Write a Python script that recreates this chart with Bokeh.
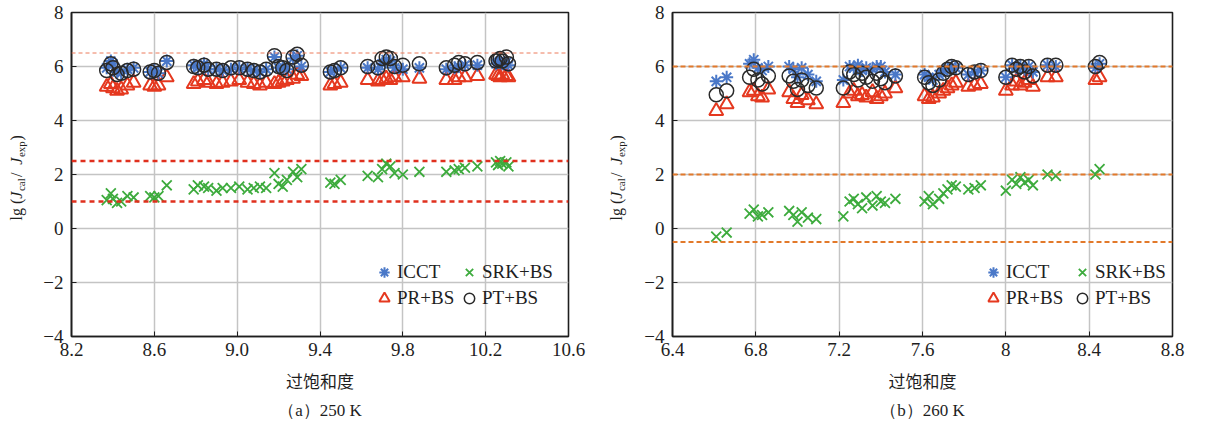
import numpy as np
from bokeh.plotting import figure
from bokeh.layouts import row
from bokeh.models import (Span, Legend, LegendItem, Title, FixedTicker,
                          CustomJSTickFormatter, Range1d)
from bokeh.core.properties import value
from bokeh.embed import file_html
from bokeh.resources import INLINE

# ---------------- data: (a) 250 K ----------------
ss_250 = [8.37, 8.39, 8.40, 8.42, 8.44, 8.47, 8.50,
          8.58, 8.60, 8.62, 8.66,
          8.79, 8.81, 8.84, 8.86, 8.90, 8.93, 8.97, 9.01, 9.05, 9.08, 9.11, 9.14,
          9.18, 9.20, 9.22, 9.24, 9.27, 9.29, 9.31,
          9.45, 9.47, 9.50,
          9.63, 9.68, 9.70, 9.72, 9.74, 9.76, 9.80, 9.88,
          10.01, 10.05, 10.07, 10.10, 10.16, 10.25, 10.26, 10.27, 10.28, 10.30, 10.31]
icct_250 = [5.95, 6.2, 6.1, 5.8, 5.75, 5.9, 5.95,
            5.8, 5.85, 5.75, 6.2,
            6.05, 5.95, 6.1, 5.9, 5.9, 5.85, 5.9, 5.95, 5.9, 5.85, 5.8, 5.9,
            6.35, 5.95, 6.0, 5.9, 6.3, 6.4, 6.0,
            5.8, 5.85, 5.95,
            5.95, 5.9, 6.1, 6.25, 6.2, 5.95, 5.9, 5.95,
            5.9, 5.95, 6.0, 6.05, 6.05, 6.1, 6.15, 6.2, 6.1, 6.15, 6.05]
pt_250 = [5.85, 6.1, 5.95, 5.7, 5.75, 5.85, 5.9,
          5.8, 5.85, 5.75, 6.15,
          6.0, 5.95, 6.05, 5.9, 5.9, 5.85, 5.95, 5.95, 5.9, 5.85, 5.8, 5.9,
          6.4, 6.0, 5.95, 5.85, 6.35, 6.45, 6.05,
          5.8, 5.85, 5.95,
          6.0, 5.95, 6.3, 6.35, 6.3, 6.0, 6.05, 6.1,
          5.95, 6.05, 6.15, 6.1, 6.15, 6.2, 6.25, 6.3, 6.2, 6.35, 6.1]
pr_250 = [5.25, 5.35, 5.2, 5.1, 5.15, 5.3, 5.4,
          5.3, 5.25, 5.3, 5.6,
          5.35, 5.45, 5.5, 5.4, 5.35, 5.4, 5.45, 5.5, 5.4, 5.35, 5.3, 5.4,
          5.35, 5.4, 5.45, 5.5, 5.55, 5.7, 5.65,
          5.3, 5.35, 5.4,
          5.5, 5.45, 5.5, 5.55, 5.5, 5.6, 5.6, 5.55,
          5.5, 5.5, 5.6, 5.6, 5.65, 5.7, 5.65, 5.6, 5.7, 5.65, 5.6]
srk_250 = [1.05, 1.3, 1.1, 0.95, 1.0, 1.2, 1.15,
           1.2, 1.15, 1.2, 1.6,
           1.45, 1.6, 1.55, 1.5, 1.4, 1.5, 1.5, 1.55, 1.45, 1.5, 1.55, 1.5,
           2.05, 1.65, 1.55, 1.8, 2.1, 1.9, 2.2,
           1.7, 1.65, 1.8,
           1.95, 1.9, 2.2, 2.4, 2.3, 2.05, 2.0, 2.1,
           2.1, 2.15, 2.2, 2.25, 2.3, 2.45, 2.35, 2.5, 2.4, 2.45, 2.3]
ref_lines_250 = [6.5, 2.5, 1.0]

# ---------------- data: (b) 260 K ----------------
ss_260 = [6.61, 6.66,
          6.77, 6.79, 6.81, 6.83, 6.86,
          6.96, 6.98, 7.00, 7.02, 7.05, 7.09,
          7.22,
          7.25, 7.27, 7.29, 7.31, 7.33, 7.36, 7.38, 7.40, 7.42, 7.47,
          7.61, 7.63, 7.65, 7.68, 7.70, 7.72, 7.74, 7.76, 7.82, 7.85, 7.88,
          8.00, 8.03, 8.05, 8.07, 8.09, 8.11, 8.13,
          8.20, 8.24,
          8.43, 8.45]
icct_260 = [5.45, 5.6,
            6.1, 6.25, 5.95, 5.85, 6.0,
            6.0, 5.9, 5.6, 5.95, 5.7, 5.45,
            5.5,
            6.0, 5.95, 6.05, 5.85, 5.95, 5.9, 6.0, 6.0, 5.8, 5.7,
            5.7, 5.6, 5.5, 5.7, 5.85, 5.9, 6.0, 5.95, 5.7, 5.8, 5.85,
            5.6, 6.05, 5.95, 6.0, 5.9, 6.0, 5.8,
            6.05, 6.0,
            5.95, 6.1]
pt_260 = [4.95, 5.1,
          5.6, 5.9, 5.5, 5.35, 5.65,
          5.65, 5.45, 5.15, 5.5, 5.3, 5.2,
          5.2,
          5.8, 5.7, 5.5, 5.75, 5.6, 5.45, 5.75, 5.55, 5.4, 5.65,
          5.6, 5.4, 5.3, 5.5, 5.75, 5.9, 6.0, 5.95, 5.7, 5.8, 5.85,
          5.6, 6.05, 5.9, 6.0, 5.8, 6.0, 5.65,
          6.05, 6.05,
          6.0, 6.15]
pr_260 = [4.35, 4.6,
          5.05, 5.1, 4.9, 4.85, 5.15,
          5.05, 4.8, 4.65, 4.95, 4.75, 4.6,
          4.65,
          5.0, 5.1, 4.9, 4.95, 4.85, 5.05, 4.8, 4.9, 5.0, 5.2,
          4.9, 4.8, 4.85, 5.0, 5.1, 5.2, 5.3, 5.4, 5.25, 5.3, 5.35,
          5.1, 5.3, 5.45, 5.3, 5.4, 5.5, 5.25,
          5.6, 5.6,
          5.5, 5.6]
srk_260 = [-0.3, -0.15,
           0.55, 0.7, 0.45, 0.5, 0.6,
           0.65, 0.5, 0.25, 0.6, 0.4, 0.35,
           0.45,
           1.0, 1.1, 0.9, 0.75, 1.15, 0.85, 1.2, 1.0, 0.95, 1.1,
           1.0, 1.2, 0.9, 1.1, 1.3, 1.45, 1.6, 1.55, 1.45, 1.5, 1.6,
           1.4, 1.8, 1.65, 1.9, 1.7, 1.8, 1.6,
           2.0, 1.95,
           2.0, 2.2]
ref_lines_260 = [6.0, 2.0, -0.5]

x_ticks_250 = [8.2, 8.6, 9.0, 9.4, 9.8, 10.2, 10.6]
x_ticks_260 = [6.4, 6.8, 7.2, 7.6, 8.0, 8.4, 8.8]
y_ticks = [-4, -2, 0, 2, 4, 6, 8]
series_names = ["ICCT", "SRK+BS", "PR+BS", "PT+BS"]
x_title = "过饱和度"
captions = ["（a）250 K", "（b）260 K"]
# y-axis title pieces: lg (J_cal / J_exp)
ytitle_pieces = ["lg (", "J", "cal", " / ", "J", "exp", ")"]

SERIF = "Liberation Serif"
CJK = "Noto Sans CJK SC"
C_ICCT = "#4a78c8"
C_SRK = "#3dab3d"
C_PR = "#e5381f"
C_PT = "#2a2a2a"
H = 424
TOP = 12
BOTTOM = 88
FRAME_H = H - TOP - BOTTOM  # 324 px for 12 units


def make_panel(ss, icct, pt, pr, srk, xticks, xfmt, spans, span_styles,
               caption, width, border_left, frame_w, legend_loc, legend_lw):
    x0, x1 = xticks[0], xticks[-1]
    p = figure(width=width, height=H, output_backend="svg", toolbar_location=None,
               x_range=Range1d(x0, x1), y_range=Range1d(-4, 8),
               min_border_left=border_left, min_border_right=width - border_left - frame_w,
               min_border_top=TOP, min_border_bottom=BOTTOM)
    p.background_fill_color = "white"
    p.border_fill_color = "white"
    p.outline_line_color = "#1e1e1e"
    p.outline_line_width = 1.6

    for ax in (p.xaxis[0], p.yaxis[0]):
        ax.axis_line_color = "#1e1e1e"
        ax.axis_line_width = 1.6
        ax.major_tick_in = 5
        ax.major_tick_out = 0
        ax.minor_tick_line_color = None
        ax.major_tick_line_color = "#1e1e1e"
        ax.major_label_text_font = SERIF
        ax.major_label_text_font_size = "19px"
        ax.major_label_text_color = "#1e1e1e"
    p.xaxis.ticker = FixedTicker(ticks=xticks)
    p.yaxis.ticker = FixedTicker(ticks=y_ticks)
    p.xaxis.formatter = CustomJSTickFormatter(code=xfmt)
    p.yaxis.formatter = CustomJSTickFormatter(
        code="return tick < 0 ? '\u2212' + Math.abs(tick) : tick.toString();")
    p.xaxis.major_label_standoff = 6
    p.yaxis.major_label_standoff = 8
    p.xaxis.axis_label = x_title
    p.xaxis.axis_label_text_font = CJK
    p.xaxis.axis_label_text_font_style = "normal"
    p.xaxis.axis_label_text_font_size = "17px"
    p.xaxis.axis_label_text_color = "#1e1e1e"
    p.xaxis.axis_label_standoff = 9
    p.grid.grid_line_color = "#c4c4c4"
    p.grid.grid_line_width = 1.5

    for yv, (col, lw, dash) in zip(spans, span_styles):
        p.add_layout(Span(location=yv, dimension="width", line_color=col,
                          line_width=lw, line_dash=dash))

    r_srk = p.scatter(ss, srk, marker="x", size=14, line_color=C_SRK, line_width=1.8)
    r_pr = p.scatter(ss, pr, marker="triangle", size=14, fill_color=None,
                     line_color=C_PR, line_width=2)
    r_icct = p.scatter(ss, icct, marker="asterisk", size=13, line_color=C_ICCT, line_width=2)
    r_pt = p.scatter(ss, pt, marker="circle", size=14, fill_color=None,
                     line_color=C_PT, line_width=1.5)

    leg = Legend(items=[LegendItem(label=series_names[0], renderers=[r_icct]),
                        LegendItem(label=series_names[1], renderers=[r_srk]),
                        LegendItem(label=series_names[2], renderers=[r_pr]),
                        LegendItem(label=series_names[3], renderers=[r_pt])],
                 orientation="horizontal", ncols=2, location=legend_loc,
                 label_text_font=SERIF, label_text_font_size="19px",
                 label_text_color="#1e1e1e", glyph_width=26, glyph_height=26,
                 label_standoff=0, label_width=legend_lw, spacing=0, padding=4,
                 label_height=24, background_fill_alpha=0, border_line_alpha=0)
    p.add_layout(leg, "center")

    p.add_layout(Title(text=caption, align="center", text_font=SERIF,
                       text_font_size="17px", text_font_style="normal",
                       text_color="#1e1e1e", standoff=6), "below")
    return p


def make_ytitle(width, xc):
    # narrow strip holding the rotated y-axis title, with the panels' vertical scale
    upp = 12.0 / FRAME_H
    q = figure(width=width, height=H, output_backend="svg", toolbar_location=None,
               title=None, x_range=Range1d(0, width), y_range=Range1d(-4, 8),
               x_axis_type=None, y_axis_type=None,
               min_border_left=0, min_border_right=0,
               min_border_top=TOP, min_border_bottom=BOTTOM)
    q.outline_line_color = None
    q.grid.visible = False
    q.background_fill_color = "white"
    q.border_fill_color = "white"
    # (font size, style, shift toward the subscript side in px, advance in px)
    styles = [("16px", "normal", 0, 21.8), ("16px", "italic", 0, 7.6),
              ("11px", "normal", 4.5, 14.0), ("16px", "normal", 0, 12.4),
              ("16px", "italic", 0, 7.6), ("11px", "normal", 4.5, 16.5),
              ("16px", "normal", 0, 5.3)]
    ypos = 8 - (220 - TOP) * upp
    for txt, (fs, st, dx, w) in zip(ytitle_pieces, styles):
        q.text(x=[xc + dx], y=[ypos], text=[txt], angle=np.pi / 2,
               text_font=value(SERIF), text_font_size=value(fs),
               text_font_style=st, text_color="#1e1e1e",
               text_align="left", text_baseline="middle")
        ypos += w * upp
    return q


fmt_250 = "return tick.toFixed(1);"
fmt_260 = "return Math.abs(tick - 8) < 1e-9 ? '8' : tick.toFixed(1);"

W_LAB1, W_P1, W_LAB2 = 40, 546, 54
W_P2 = 1205 - W_LAB1 - W_P1 - W_LAB2

p1 = make_panel(ss_250, icct_250, pt_250, pr_250, srk_250, x_ticks_250, fmt_250,
                ref_lines_250,
                [("#ec7a5a", 1.0, "4 3"), ("#e0301e", 2.4, "5 4"), ("#e0301e", 2.4, "5 4")],
                captions[0], W_P1, 30, 498, (296, 21), 59)
p2 = make_panel(ss_260, icct_260, pt_260, pr_260, srk_260, x_ticks_260, fmt_260,
                ref_lines_260,
                [("#e2792a", 2.0, "5 3"), ("#e2792a", 2.0, "5 3"), ("#e2792a", 2.0, "5 3")],
                captions[1], W_P2, 32, 500, (304, 21), 63)
lab1 = make_ytitle(W_LAB1, 16)
lab2 = make_ytitle(W_LAB2, 30)

layout = row(lab1, p1, lab2, p2, spacing=0)
open("out.html", "w").write(file_html(layout, INLINE))
